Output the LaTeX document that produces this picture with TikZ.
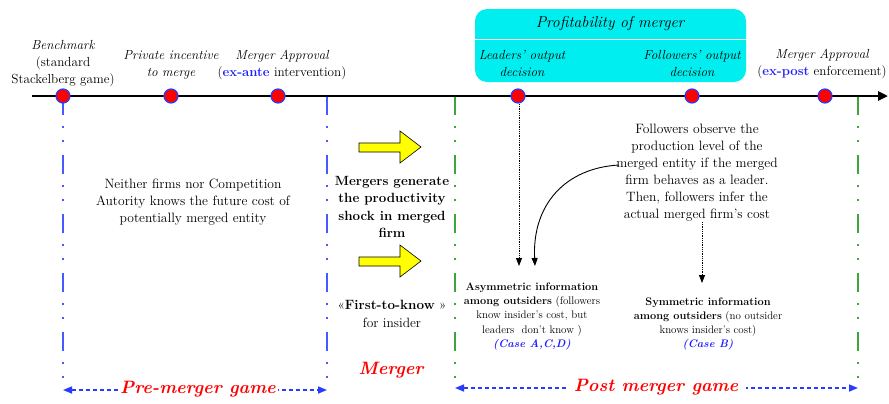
\documentclass[tikz,border=0pt]{standalone}
\usetikzlibrary{arrows.meta}
\definecolor{dotblue}{RGB}{40,60,255}
\definecolor{lineblue}{RGB}{70,90,255}
\definecolor{linegreen}{RGB}{60,165,60}
\definecolor{boxcyan}{RGB}{0,238,240}
\definecolor{arrowyellow}{RGB}{255,255,0}
\definecolor{caseblue}{RGB}{30,30,255}
\tikzset{
  evdot/.style={circle, minimum size=14bp, inner sep=0pt, fill=red, draw=dotblue, line width=1.2bp},
  lab/.style={align=center, inner sep=0pt, font=\fontsize{13.2}{17}\selectfont\itshape},
  body/.style={align=center, inner sep=0pt, font=\fontsize{13.6}{17}\selectfont},
  small/.style={align=center, inner sep=0pt, font=\fontsize{11}{14.3}\selectfont},
  dashdotdot/.style={line width=2bp, dash pattern=on 19bp off 11bp on 2bp off 12bp on 2bp off 13bp},
  spanarrow/.style={line width=1.6bp, dash pattern=on 4bp off 3bp, {Triangle[length=9bp,width=7bp]}-{Triangle[length=9bp,width=7bp]}, color=dotblue},
  gamelabel/.style={inner sep=2pt, fill=white, text=red, font=\fontsize{18}{20}\selectfont\bfseries\itshape},
  dotarrow/.style={densely dotted, line width=0.8bp, -{Triangle[length=8bp,width=6bp]}},
  yarrow/.style={fill=arrowyellow, draw=black, line width=0.6bp},
}
\begin{document}
\begin{tikzpicture}[x=1bp,y=-1bp]
\useasboundingbox (0,0) rectangle (889,403);
% profitability box
\node[draw=none, fill=boxcyan, rounded corners=12bp, minimum width=271bp, minimum height=73bp, inner sep=0pt] (pbox) at (610.5,45.5) {};
\draw[white, line width=0.8bp] (475,39) -- (746,39);
\node[lab, font=\fontsize{15.8}{17}\selectfont\itshape] (ptitle) at (610,24) {Profitability of merger};
\node[lab] (lead) at (522,63.5) {Leaders' output\\decision};
\node[lab] (foll) at (692,63.5) {Followers' output\\decision};
% labels above timeline
\node[lab] (bench) at (63,64) {Benchmark\\\upshape(standard\\\upshape Stackelberg game)};
\node[lab] (priv) at (171,64.5) {Private incentive\\to merge};
\node[lab] (appr1) at (282,64.5) {Merger Approval\\\upshape(\textbf{\color{caseblue}ex-ante} intervention)};
\node[lab] (appr2) at (822,63.5) {Merger Approval\\\upshape(\textbf{\color{caseblue}ex-post} enforcement)};
% vertical phase lines
\coordinate (b1t) at (63,96); \coordinate (b1b) at (63,390);
\coordinate (b2t) at (327,96); \coordinate (b2b) at (327,390);
\coordinate (g1t) at (455,96); \coordinate (g1b) at (455,390);
\coordinate (g2t) at (858,96); \coordinate (g2b) at (858,390);
\draw[dashdotdot, lineblue] (b1t) -- (b1b);
\draw[dashdotdot, lineblue] (b2t) -- (b2b);
\draw[dashdotdot, linegreen] (g1t) -- (g1b);
\draw[dashdotdot, linegreen] (g2t) -- (g2b);
% timeline
\coordinate (tl0) at (32,96); \coordinate (tl1) at (888,96);
\draw[line width=2.6bp, -{Triangle[length=10bp,width=9bp]}] (tl0) -- (tl1);
\node[evdot] (d1) at (63,96) {};
\node[evdot] (d2) at (171,96) {};
\node[evdot] (d3) at (278,96) {};
\node[evdot] (d4) at (518,96) {};
\node[evdot] (d5) at (692,96) {};
\node[evdot] (d6) at (825,96) {};
% pre-merger text
\node[body] (neither) at (193,202) {Neither firms nor Competition\\Autority knows the future cost of\\potentially merged entity};
% yellow arrows
\draw[yarrow] (359,143) -- (400,143) -- (400,131) -- (421,147) -- (400,163) -- (400,152) -- (359,152) -- cycle;
\draw[yarrow] (359,257) -- (400,257) -- (400,245) -- (421,261) -- (400,277) -- (400,266) -- (359,266) -- cycle;
\node[body, font=\fontsize{13.4}{17.3}\selectfont\bfseries] (shock) at (392,207) {Mergers generate\\the productivity\\shock in merged\\firm};
\node[body, font=\fontsize{13.5}{18}\selectfont] (first) at (392,313.5) {«\textbf{First-to-know} »\\for insider};
% post-merger text
\node[body] (observe) at (697,172.5) {Followers observe the\\production level of the\\merged entity if the merged\\firm behaves as a leader.\\Then, followers infer the\\actual merged firm's cost};
\node[small] (asym) at (532,316.5) {\textbf{Asymmetric information}\\\textbf{among outsiders} (followers\\know insider's cost, but\\leaders\ \ don't know )\\{\color{caseblue}\bfseries\itshape (Case A,C,D)}};
\node[small] (sym) at (708,324) {\textbf{Symmetric information}\\\textbf{among outsiders} (no outsider\\knows insider's cost)\\{\color{caseblue}\bfseries\itshape (Case B)}};
% connectors
\coordinate (a1s) at (519,104); \coordinate (a1e) at (519,266);
\draw[dotarrow] (a1s) -- (a1e);
\coordinate (a2s) at (702,222); \coordinate (a2e) at (702,283);
\draw[dotarrow] (a2s) -- (a2e);
\coordinate (cs) at (619,165); \coordinate (ce) at (535,266);
\draw[line width=0.9bp, -{Triangle[length=8bp,width=6bp]}] (cs) .. controls (565,168) and (532,205) .. (ce);
% bottom spans
\draw[spanarrow] (b1b) -- (b2b);
\node[gamelabel] (pre) at (198,389) {Pre-merger game};
\draw[spanarrow] (455,388) -- (858,388);
\node[gamelabel, inner xsep=8pt] (post) at (656,387) {Post merger game};
\node[gamelabel, fill=none] (merger) at (391,370) {Merger};
\end{tikzpicture}
\end{document}
